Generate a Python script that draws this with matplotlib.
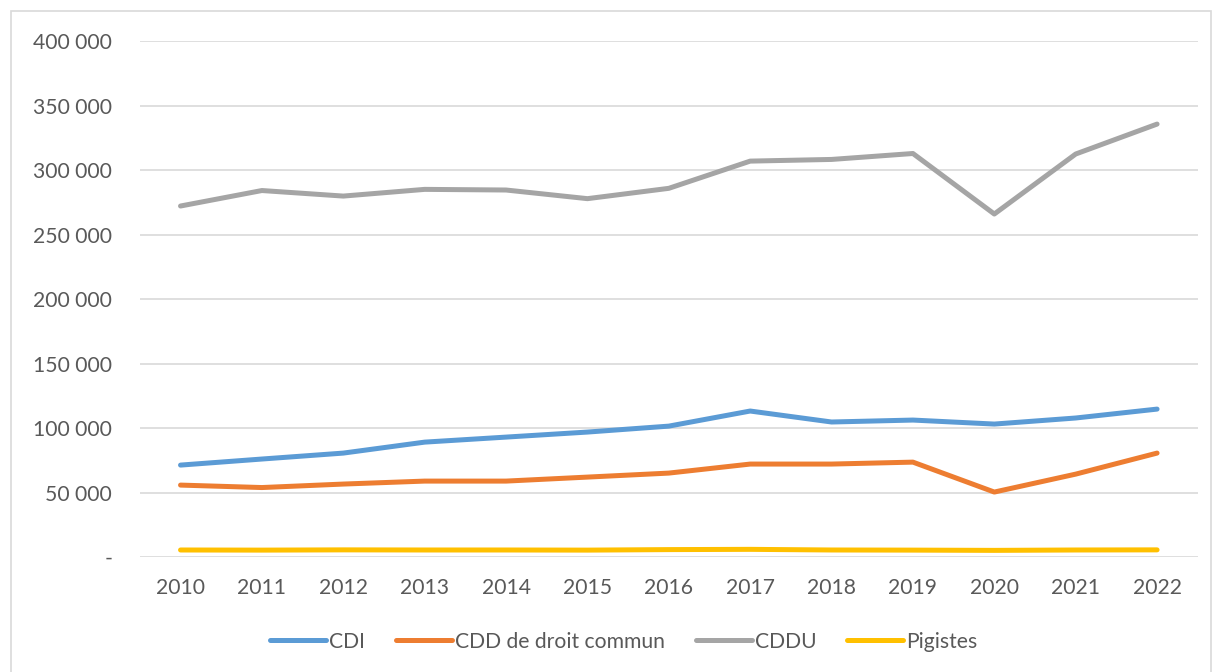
import matplotlib
matplotlib.use("Agg")
import matplotlib.pyplot as plt
from matplotlib.ticker import FuncFormatter
from matplotlib.patches import Rectangle

years = [2010, 2011, 2012, 2013, 2014, 2015, 2016, 2017, 2018, 2019, 2020, 2021, 2022]
cdi = [71300, 76000, 80600, 89100, 93000, 96900, 101500, 113200, 104700, 106200, 103100, 107800, 114700]
cdd = [55800, 53900, 56600, 58900, 58900, 62000, 65100, 72100, 72100, 73600, 50400, 64300, 80600]
cddu = [272100, 284100, 279800, 285000, 284500, 277800, 285800, 306900, 308200, 312800, 265900, 312400, 335600]
pigistes = [5500, 5400, 5600, 5500, 5500, 5400, 5800, 6000, 5500, 5400, 5200, 5500, 5600]

series = [("CDI", cdi, "#5B9BD5"), ("CDD de droit commun", cdd, "#ED7D31"),
          ("CDDU", cddu, "#A5A5A5"), ("Pigistes", pigistes, "#FFC000")]

plt.rcParams['font.family'] = ['Lato', 'DejaVu Sans']

fig = plt.figure(figsize=(12.16, 6.72), dpi=100)
ax = fig.add_axes([0.115, 0.171, 0.870, 0.768])

x = list(range(len(years)))
for name, vals, col in series:
    ax.plot(x, vals, color=col, lw=3.6, solid_capstyle='round', solid_joinstyle='round', label=name)

ax.set_xlim(-0.5, len(years) - 0.5)
ax.set_ylim(0, 400000)
ax.set_yticks(range(0, 400001, 50000))
ax.yaxis.set_major_formatter(FuncFormatter(lambda v, p: "-" if v == 0 else f"{int(v):,}".replace(",", " ")))
ax.set_xticks(x)
ax.set_xticklabels([str(y) for y in years])
ax.grid(axis='y', color='#D9D9D9', lw=1.2)
ax.set_axisbelow(True)
for s in ax.spines.values():
    s.set_visible(False)
ax.tick_params(axis='both', length=0, labelsize=15.2, colors='#595959')
ax.tick_params(axis='y', pad=20)
ax.tick_params(axis='x', pad=15)
for lab in ax.get_yticklabels():
    lab.set_horizontalalignment('right')

leg = fig.legend(loc='center', bbox_to_anchor=(0.513, 0.045), ncol=4, frameon=False,
                 fontsize=15.2, handlelength=2.65, handletextpad=0.15, columnspacing=1.45)
for t in leg.get_texts():
    t.set_color('#595959')

fig.patches.append(Rectangle((0.009, -0.01), 0.987, 0.993, transform=fig.transFigure,
                             fill=False, edgecolor='#D9D9D9', lw=1.2))

fig.savefig("out.png", dpi=100, facecolor='white')
